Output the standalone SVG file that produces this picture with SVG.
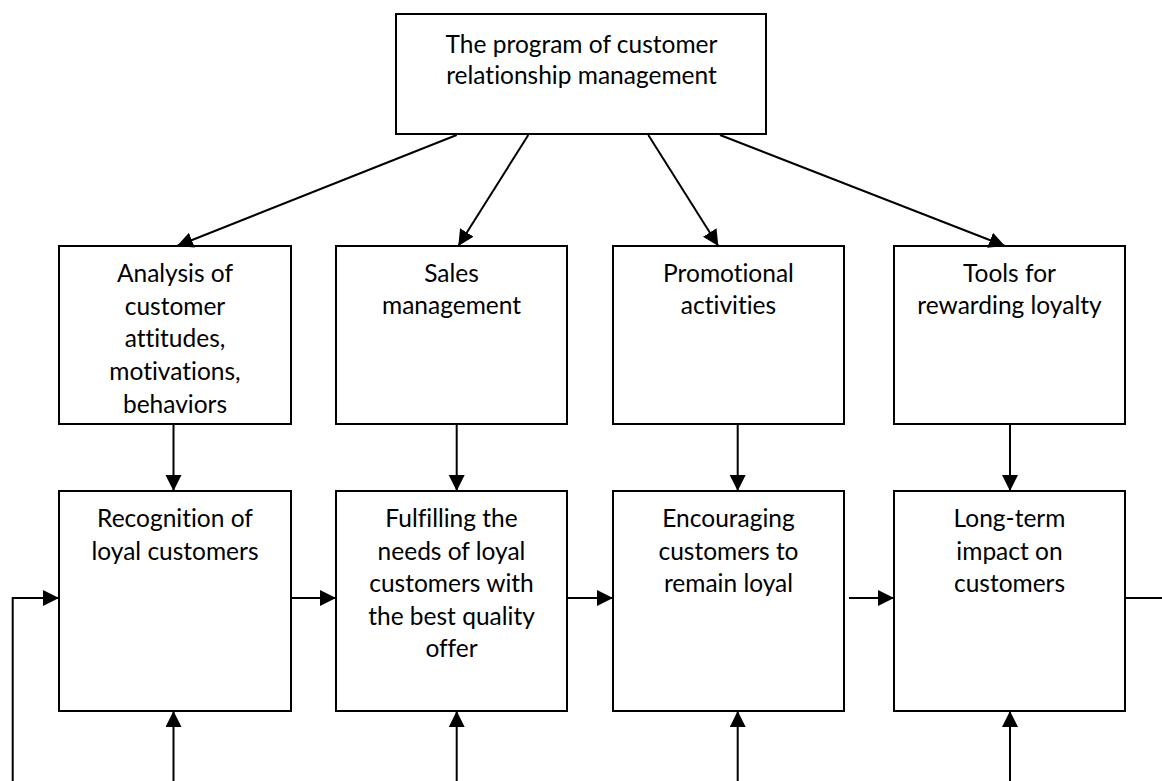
<svg xmlns="http://www.w3.org/2000/svg" width="1162" height="781" viewBox="0 0 1162 781">
  <defs>
    <marker id="arrow" markerUnits="userSpaceOnUse" markerWidth="17" markerHeight="17" refX="16" refY="8" orient="auto">
      <path d="M0,0 L16,8 L0,16 Z" fill="#000"/>
    </marker>
    <style>
      .box { fill: #fff; stroke: #000; stroke-width: 2; }
      .lbl { font-family: Lato, "Liberation Sans", sans-serif; font-size: 24.5px; fill: #000; text-anchor: middle; font-variant-ligatures: none; }
      .conn { stroke: #000; stroke-width: 2; fill: none; }
      .arr { marker-end: url(#arrow); }
    </style>
  </defs>
  <rect width="1162" height="781" fill="#fff"/>

  <!-- program (root) -->
  <g id="crm-program">
    <rect class="box" x="396" y="14" width="370" height="120"/>
    <text class="lbl"><tspan x="581.5" y="53">The program of customer</tspan><tspan x="581.5" y="84">relationship management</tspan></text>
  </g>

  <!-- activities row -->
  <g id="analysis">
    <rect class="box" x="59" y="246" width="232" height="178"/>
    <text class="lbl"><tspan x="175" y="282">Analysis of</tspan><tspan x="175" y="314.5">customer</tspan><tspan x="175" y="347">attitudes,</tspan><tspan x="175" y="380">motivations,</tspan><tspan x="175" y="412.5">behaviors</tspan></text>
  </g>
  <g id="sales">
    <rect class="box" x="336" y="246" width="231" height="178"/>
    <text class="lbl"><tspan x="451.5" y="282">Sales</tspan><tspan x="451.5" y="314">management</tspan></text>
  </g>
  <g id="promotion">
    <rect class="box" x="613" y="246" width="231" height="178"/>
    <text class="lbl"><tspan x="728.5" y="282">Promotional</tspan><tspan x="728.5" y="314">activities</tspan></text>
  </g>
  <g id="rewards">
    <rect class="box" x="894" y="246" width="231" height="178"/>
    <text class="lbl"><tspan x="1009.5" y="282">Tools for</tspan><tspan x="1009.5" y="314">rewarding loyalty</tspan></text>
  </g>

  <!-- outcome row -->
  <g id="recognition">
    <rect class="box" x="59" y="491" width="232" height="220"/>
    <text class="lbl"><tspan x="175" y="527">Recognition of</tspan><tspan x="175" y="559.5">loyal customers</tspan></text>
  </g>
  <g id="fulfilling">
    <rect class="box" x="336" y="491" width="231" height="220"/>
    <text class="lbl"><tspan x="451.5" y="527">Fulfilling the</tspan><tspan x="451.5" y="559.5">needs of loyal</tspan><tspan x="451.5" y="592">customers with</tspan><tspan x="451.5" y="624.5">the best quality</tspan><tspan x="451.5" y="657">offer</tspan></text>
  </g>
  <g id="encouraging">
    <rect class="box" x="613" y="491" width="231" height="220"/>
    <text class="lbl"><tspan x="728.5" y="527">Encouraging</tspan><tspan x="728.5" y="559.5">customers to</tspan><tspan x="728.5" y="592">remain loyal</tspan></text>
  </g>
  <g id="long-term">
    <rect class="box" x="894" y="491" width="231" height="220"/>
    <text class="lbl"><tspan x="1009.5" y="527">Long-term</tspan><tspan x="1009.5" y="559.5">impact on</tspan><tspan x="1009.5" y="592">customers</tspan></text>
  </g>

  <!-- connectors -->
  <g id="connectors">
    <line class="conn arr" x1="456.7" y1="135" x2="177" y2="246"/>
    <line class="conn arr" x1="528.3" y1="135" x2="458.3" y2="246"/>
    <line class="conn arr" x1="648.3" y1="135" x2="718.3" y2="246"/>
    <line class="conn arr" x1="720" y1="135" x2="1005" y2="246"/>

    <line class="conn arr" x1="173.5" y1="425" x2="173.5" y2="491"/>
    <line class="conn arr" x1="456.7" y1="425" x2="456.7" y2="491"/>
    <line class="conn arr" x1="737.7" y1="425" x2="737.7" y2="491"/>
    <line class="conn arr" x1="1010" y1="425" x2="1010" y2="491"/>

    <line class="conn arr" x1="173.5" y1="781" x2="173.5" y2="711"/>
    <line class="conn arr" x1="456.7" y1="781" x2="456.7" y2="711"/>
    <line class="conn arr" x1="737.7" y1="781" x2="737.7" y2="711"/>
    <line class="conn arr" x1="1010" y1="781" x2="1010" y2="711"/>

    <line class="conn arr" x1="291" y1="598" x2="336" y2="598"/>
    <line class="conn arr" x1="567" y1="598" x2="613" y2="598"/>
    <line class="conn arr" x1="849" y1="598" x2="894" y2="598"/>
    <line class="conn" x1="1125" y1="598" x2="1162" y2="598"/>
    <polyline class="conn arr" points="12.7,781 12.7,598 59,598"/>
  </g>
</svg>
